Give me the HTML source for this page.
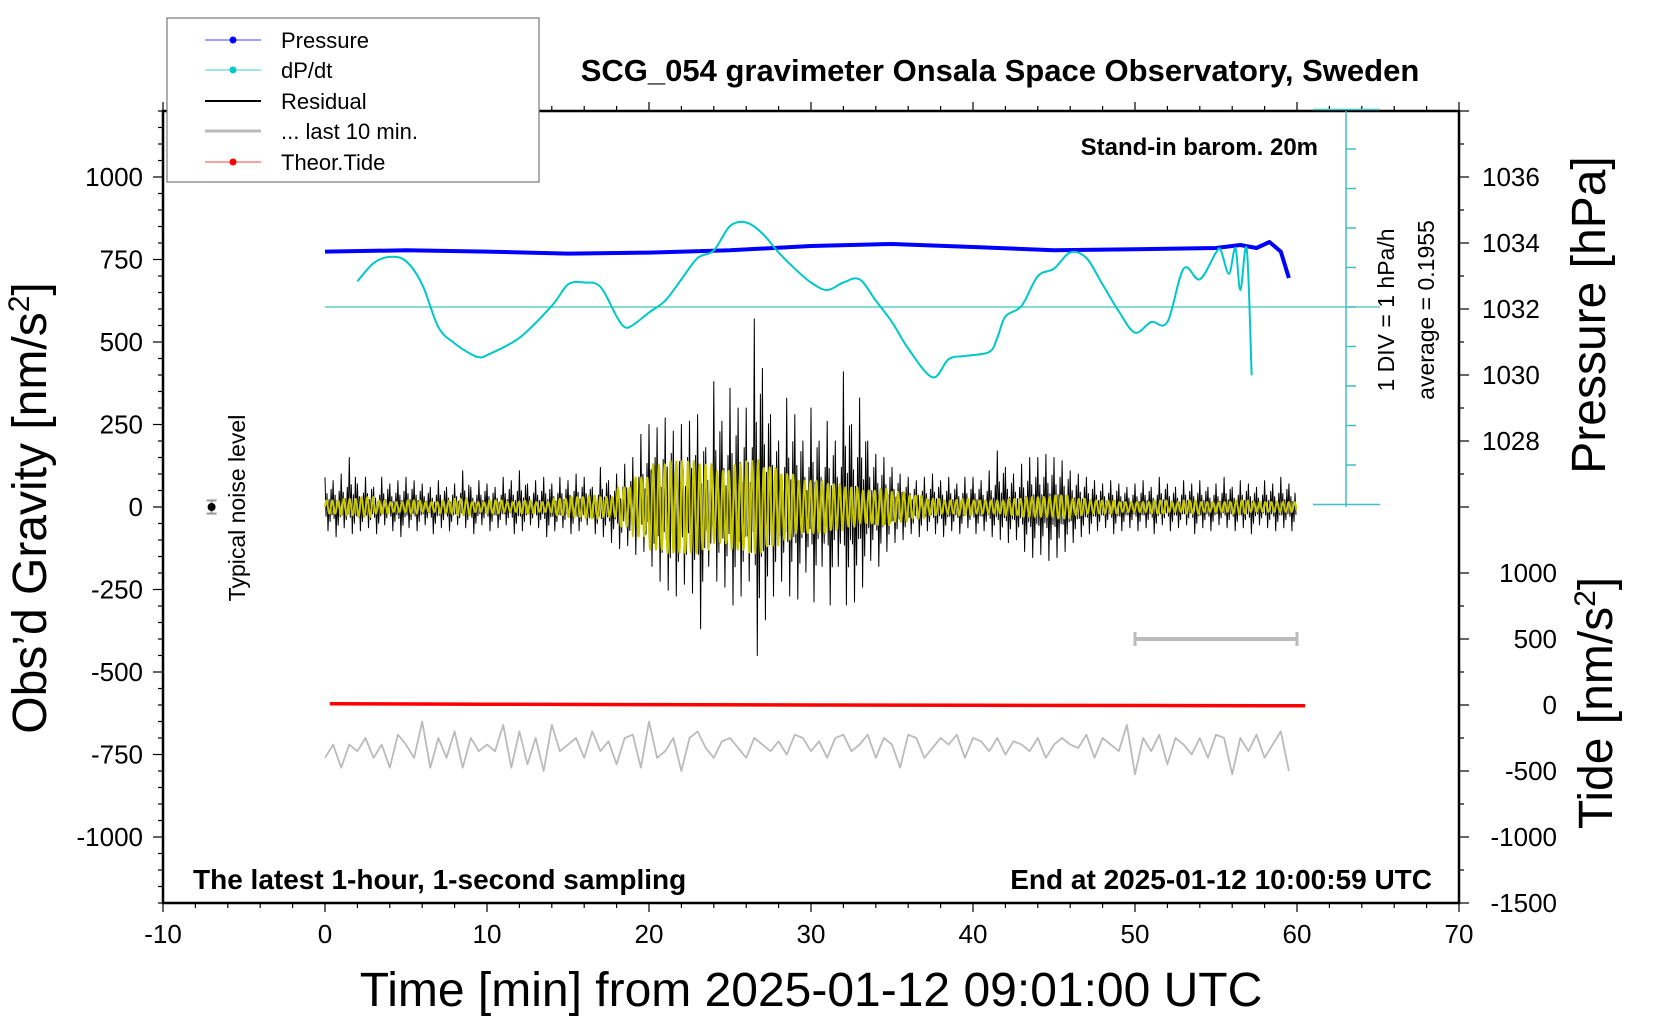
<!DOCTYPE html>
<html><head><meta charset="utf-8">
<style>
html,body{margin:0;padding:0;background:#fff;}
svg{display:block;font-family:"Liberation Sans",sans-serif;}
</style></head>
<body>
<svg id="chart" width="1660" height="1020" viewBox="0 0 1660 1020" xmlns="http://www.w3.org/2000/svg">
<g id="axes"></g>
<g id="series"></g>
<text x="1000" y="81" font-size="31" font-weight="bold" text-anchor="middle">SCG_054 gravimeter Onsala Space Observatory, Sweden</text>
<text x="1318" y="155" font-size="24" font-weight="bold" text-anchor="end">Stand-in barom. 20m</text>
<text x="193" y="889" font-size="28" font-weight="bold">The latest 1-hour, 1-second sampling</text>
<text x="1432" y="889" font-size="28" font-weight="bold" text-anchor="end">End at 2025-01-12 10:00:59 UTC</text>
<text x="811" y="1006" font-size="48" text-anchor="middle">Time [min] from 2025-01-12 09:01:00 UTC</text>
<text transform="translate(46,508) rotate(-90)" font-size="48" text-anchor="middle">Obs’d Gravity [nm/s<tspan dy="-17" font-size="30">2</tspan><tspan dy="17">]</tspan></text>
<text transform="translate(1605,315) rotate(-90)" font-size="48" text-anchor="middle">Pressure [hPa]</text>
<text transform="translate(1612,703) rotate(-90)" font-size="48" text-anchor="middle">Tide [nm/s<tspan dy="-17" font-size="30">2</tspan><tspan dy="17">]</tspan></text>
<text transform="translate(1394,310) rotate(-90)" font-size="23" text-anchor="middle">1 DIV = 1 hPa/h</text>
<text transform="translate(1434,310) rotate(-90)" font-size="23" text-anchor="middle">average = 0.1955</text>
<text transform="translate(245,508) rotate(-90)" font-size="23" text-anchor="middle">Typical noise level</text>
<g>
<rect x="167" y="18" width="372" height="164" fill="#fff" stroke="#777" stroke-width="1.2"/>
<g><line x1="205" y1="40" x2="261" y2="40" stroke="#4040ff" stroke-width="1"/><circle cx="233" cy="40" r="3.5" fill="#0000ff"/><text x="281" y="48" font-size="22">Pressure</text></g>
<g><line x1="205" y1="70" x2="261" y2="70" stroke="#40d0d0" stroke-width="1"/><circle cx="233" cy="70" r="3.5" fill="#00c8c8"/><text x="281" y="78" font-size="22">dP/dt</text></g>
<g><line x1="205" y1="101" x2="261" y2="101" stroke="#000" stroke-width="2"/><text x="281" y="109" font-size="22">Residual</text></g>
<g><line x1="205" y1="131" x2="261" y2="131" stroke="#bbb" stroke-width="3"/><text x="281" y="139" font-size="22">... last 10 min.</text></g>
<g><line x1="205" y1="162" x2="261" y2="162" stroke="#ff4040" stroke-width="1"/><circle cx="233" cy="162" r="3.5" fill="#ff0000"/><text x="281" y="170" font-size="22">Theor.Tide</text></g>
</g>
</svg>
<script>
// ---- data ----
const xTicks = [-10,0,10,20,30,40,50,60,70];
const gTicks = [1000,750,500,250,0,-250,-500,-750,-1000];
const pTicks = [1036,1034,1032,1030,1028];
const tideTicks = [1000,500,0,-500,-1000,-1500];
const pressureTimes = [0,5,10,15,20,25,30,35,40,45,50,55,56.5,57.5,58.3,59,59.5];
const pressureValues = [1033.74,1033.78,1033.74,1033.68,1033.71,1033.78,1033.91,1033.97,1033.88,1033.78,1033.81,1033.85,1033.94,1033.85,1034.03,1033.74,1032.94];
const dpdtTimes = [2,3,4,5,6,7,8,9,9.5,10,12,14,15,16,17,18,18.5,19,20,21,22,23,24,25,26,27,28,29,30,31,32,33,34,35,36,37.5,38.5,39.5,41,41.5,42,43,44,45,46,47,48,49,50,51,52,53,54,55,55.3,55.8,56.2,56.5,56.9,57.2];
const dpdtValues = [0.65,1.11,1.27,1.16,0.57,-0.51,-0.92,-1.19,-1.27,-1.22,-0.78,0.03,0.57,0.62,0.51,-0.24,-0.51,-0.46,-0.14,0.16,0.70,1.24,1.43,2.05,2.14,1.86,1.38,0.97,0.62,0.43,0.62,0.70,0.16,-0.38,-1.05,-1.78,-1.32,-1.24,-1.14,-0.78,-0.24,0.03,0.78,0.97,1.38,1.24,0.57,-0.11,-0.65,-0.38,-0.38,0.97,0.70,1.38,1.43,0.84,1.49,0.43,1.46,-1.73];
const resMax = [90,80,100,150,70,90,60,90,70,80,90,80,70,60,80,60,70,110,60,80,
 70,60,90,80,110,70,80,90,70,90,80,100,90,60,120,80,100,130,150,220,
 250,240,270,230,250,260,280,180,380,260,360,300,300,570,420,280,200,330,280,200,
 300,200,260,200,410,250,330,200,160,150,120,100,90,80,90,100,80,90,70,90,
 90,80,110,170,120,100,130,150,150,160,150,140,110,100,90,80,70,80,70,60,
 70,80,60,90,70,60,80,70,80,60,70,90,60,80,70,60,80,70,90,70];
const resMin = [-80,-100,-70,-90,-80,-70,-90,-60,-80,-100,-70,-80,-60,-90,-70,-80,-60,-70,-90,-60,
 -80,-70,-60,-90,-80,-60,-70,-100,-80,-70,-90,-80,-60,-90,-100,-120,-140,-130,-160,-150,
 -200,-250,-280,-300,-260,-290,-410,-200,-250,-270,-330,-300,-250,-500,-380,-300,-250,-300,-310,-220,
 -320,-200,-330,-200,-330,-320,-270,-180,-200,-150,-120,-110,-90,-100,-80,-90,-100,-80,-90,-70,
 -90,-80,-100,-110,-120,-110,-150,-170,-160,-180,-170,-150,-120,-100,-90,-80,-70,-90,-80,-70,
 -80,-70,-90,-60,-80,-70,-60,-90,-70,-80,-60,-70,-80,-70,-90,-60,-70,-80,-70,-80];
const filtAmp = [20,25,30,20,15,20,15,20,25,15,20,15,20,15,25,30,35,30,60,90,
 130,140,140,130,110,130,140,120,100,80,80,70,60,50,55,45,35,25,20,25,
 20,20,25,30,30,35,25,20,20,15,15,20,15,20,15,15,20,15,15,15];
const lastValues = [-760,-720,-790,-720,-740,-700,-760,-720,-790,-690,-720,-760,-650,-790,-700,-760,-680,-790,-700,-740,
 -720,-740,-660,-790,-680,-780,-700,-800,-660,-740,-720,-700,-760,-680,-740,-710,-780,-700,-690,-790,
 -650,-760,-740,-700,-800,-700,-680,-730,-760,-710,-700,-730,-760,-700,-720,-740,-710,-750,-690,-700,
 -740,-710,-760,-700,-690,-740,-720,-690,-760,-700,-720,-790,-690,-700,-760,-730,-700,-720,-690,-760,
 -700,-710,-740,-700,-750,-710,-720,-740,-700,-760,-720,-700,-720,-730,-690,-760,-700,-720,-740,-660,
 -810,-700,-740,-690,-780,-700,-720,-750,-700,-760,-690,-700,-810,-700,-740,-690,-760,-720,-680,-800];
const tideTimes = [0.3,10,20,30,40,50,60.5];
const tideValues = [10,6,3,0,-2,-4,-6];
const noiseX = -7, noiseErr = 20;
const scaleBar = [50,60], scaleBarLevel = 500;

// ---- axes functions ----
const X0=163, X1=1459, YT=111, YB=903;
const xs = t => 325 + t*16.2;
const gy = g => YT + (1200-g)/2400*(YB-YT);
const py = p => 177 + (1036-p)*33;
const ty = v => YB - (v+1500)/500*66;
const dy = d => 307 - d*39.5;
const NS='http://www.w3.org/2000/svg';
function mk(parent,tag,attrs){const e=document.createElementNS(NS,tag);for(const k in attrs)e.setAttribute(k,attrs[k]);parent.appendChild(e);return e;}
const axes=document.getElementById('axes'), ser=document.getElementById('series');

let fr=mk(axes,'rect',{x:X0,y:YT,width:X1-X0,height:YB-YT,fill:'none',stroke:'#000','stroke-width':2.5});


for(let t=-10;t<=70;t+=2){const maj=t%10===0;
 mk(axes,'line',{x1:xs(t),x2:xs(t),y1:YB,y2:YB+(maj?9:5),stroke:'#000','stroke-width':1.2});
 mk(axes,'line',{x1:xs(t),x2:xs(t),y1:YT,y2:YT-(maj?9:5),stroke:'#000','stroke-width':1.2});}
xTicks.forEach(t=>{const e=mk(axes,'text',{x:xs(t),y:943,'font-size':26,'text-anchor':'middle'});e.textContent=t;
 
 });
for(let g=-1200;g<=1200;g+=50){const maj=g%250===0;mk(axes,'line',{x1:X0,x2:X0-(maj?10:5),y1:gy(g),y2:gy(g),stroke:'#000','stroke-width':1.2});}
gTicks.forEach(g=>{const e=mk(axes,'text',{x:143,y:gy(g)+9,'font-size':26,'text-anchor':'end'});e.textContent=g;
 
 });
for(let p=1038;p>=1026;p--){const maj=p%2===0;mk(axes,'line',{x1:X1,x2:X1+(maj?10:5),y1:py(p),y2:py(p),stroke:'#000','stroke-width':1.2});}
pTicks.forEach(p=>{const e=mk(axes,'text',{x:1482,y:py(p)+9,'font-size':26});e.textContent=p;
 
 });
for(let v=-1500;v<=1000;v+=250){const maj=v%500===0;mk(axes,'line',{x1:X1,x2:X1+(maj?10:5),y1:ty(v),y2:ty(v),stroke:'#000','stroke-width':1.2});}
tideTicks.forEach(v=>{const e=mk(axes,'text',{x:1557,y:ty(v)+9,'font-size':26,'text-anchor':'end'});e.textContent=v;
 
 });
let ax=mk(axes,'line',{x1:1346,x2:1346,y1:YT,y2:gy(0),stroke:'#40c0c0','stroke-width':1.5});


for(let d=5;d>=-5;d--){const end=(d===5||d===-5);mk(axes,'line',{x1:end?1313:1346,x2:end?1380:1356,y1:dy(d),y2:dy(d),stroke:'#40c0c0','stroke-width':1.5});}
let zl=mk(axes,'line',{x1:xs(0),x2:1380,y1:dy(0),y2:dy(0),stroke:'#40c0c0','stroke-width':1.3});



function poly(pts,stroke,w,name){const e=mk(ser,'polyline',{points:pts.map(p=>p[0].toFixed(1)+','+p[1].toFixed(1)).join(' '),fill:'none',stroke:stroke,'stroke-width':w,'stroke-linejoin':'round'});
 
 return e;}
poly(lastValues.map((v,i)=>[xs(i*0.5),gy(v)]),'#bbb',1.8,'last-10-min-line');
const pat=[1,-0.35,0.45,-0.9,0.25,-0.55,0.6,-0.3];
let rp=[];
resMax.forEach((mx,i)=>{for(let k=0;k<pat.length;k++){const f=pat[k];const v=f>0?f*mx:-f*resMin[i];rp.push([xs(i*0.5+k*0.0625),gy(v)]);}});
poly(rp,'#000',1,'residual-line');
let yp=[];
for(let i=0;i<60;i++){for(let k=0;k<40;k++){const t=i+k/40;yp.push([xs(t),gy(filtAmp[i]*Math.sin(2*Math.PI*t/0.36))]);}}
poly(yp,'#c8c800',2,'filtered-residual-line');
poly(pressureTimes.map((t,i)=>[xs(t),py(pressureValues[i])]),'#0000ff',4,'pressure-line');
(function(){const pts=dpdtTimes.map((t,i)=>[xs(t),dy(dpdtValues[i])]);let d='M'+pts[0][0]+','+pts[0][1];
 for(let i=0;i<pts.length-1;i++){const p0=pts[Math.max(0,i-1)],p1=pts[i],p2=pts[i+1],p3=pts[Math.min(pts.length-1,i+2)];
 d+=' C'+(p1[0]+(p2[0]-p0[0])/6)+','+(p1[1]+(p2[1]-p0[1])/6)+' '+(p2[0]-(p3[0]-p1[0])/6)+','+(p2[1]-(p3[1]-p1[1])/6)+' '+p2[0]+','+p2[1];}
 const e=mk(ser,'path',{d:d,fill:'none',stroke:'#00c8c8','stroke-width':2});
 
 })();
poly(tideTimes.map((t,i)=>[xs(t),ty(tideValues[i])]),'#ff0000',3.5,'theor-tide-line');
let sb=mk(ser,'g',{});


mk(sb,'line',{x1:xs(scaleBar[0]),x2:xs(scaleBar[1]),y1:ty(scaleBarLevel),y2:ty(scaleBarLevel),stroke:'#bbb','stroke-width':4});
mk(sb,'line',{x1:xs(scaleBar[0]),x2:xs(scaleBar[0]),y1:ty(scaleBarLevel)-7,y2:ty(scaleBarLevel)+7,stroke:'#bbb','stroke-width':3});
mk(sb,'line',{x1:xs(scaleBar[1]),x2:xs(scaleBar[1]),y1:ty(scaleBarLevel)-7,y2:ty(scaleBarLevel)+7,stroke:'#bbb','stroke-width':3});
let nz=mk(ser,'g',{});


mk(nz,'line',{x1:xs(noiseX),x2:xs(noiseX),y1:gy(noiseErr),y2:gy(-noiseErr),stroke:'#999','stroke-width':2});
mk(nz,'line',{x1:xs(noiseX)-5,x2:xs(noiseX)+5,y1:gy(noiseErr),y2:gy(noiseErr),stroke:'#999','stroke-width':2});
mk(nz,'line',{x1:xs(noiseX)-5,x2:xs(noiseX)+5,y1:gy(-noiseErr),y2:gy(-noiseErr),stroke:'#999','stroke-width':2});
mk(nz,'circle',{cx:xs(noiseX),cy:gy(0),r:4,fill:'#000'});
</script>
</body></html>
